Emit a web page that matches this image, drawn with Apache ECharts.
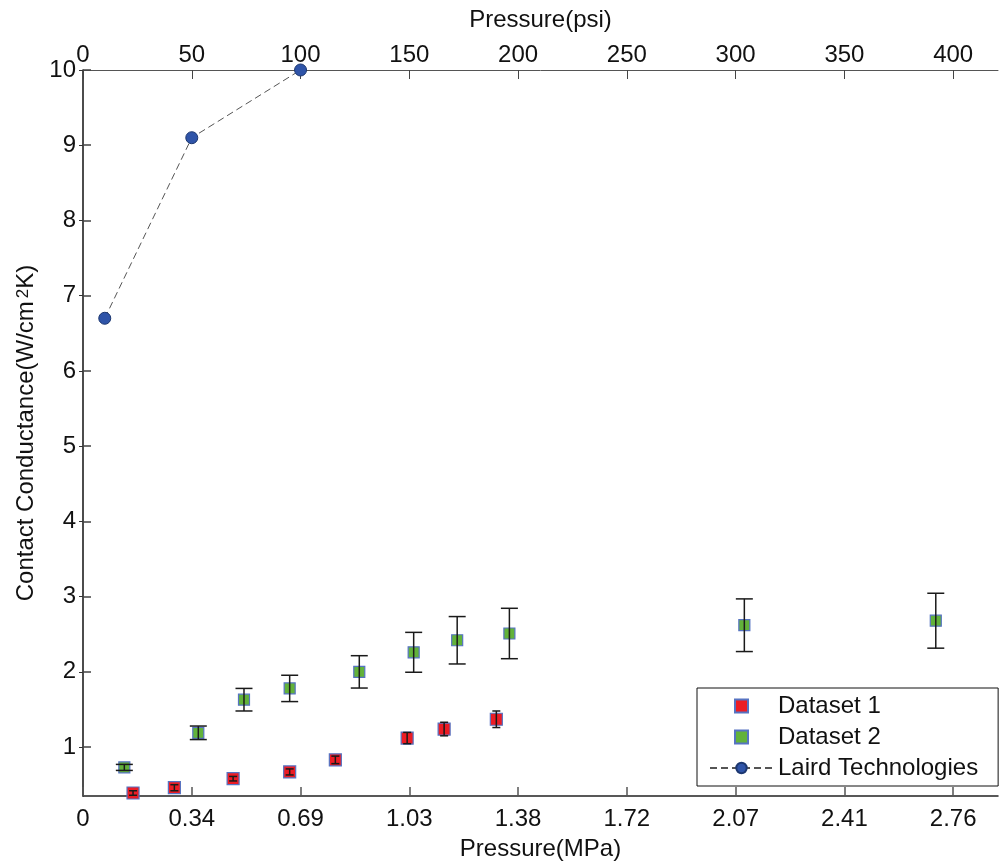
<!DOCTYPE html>
<html>
<head>
<meta charset="utf-8">
<title>Contact Conductance vs Pressure</title>
<script src="https://cdn.jsdelivr.net/npm/echarts@6/dist/echarts.min.js"></script>
<style>
  html, body { margin: 0; padding: 0; background: #fff; }
  #chart { width: 999px; height: 861px; }
</style>
</head>
<body>
<div id="chart"></div>
<script>
// x values are in psi, the bottom axis just relabels the same ticks in MPa
var psiTicks = [0, 50, 100, 150, 200, 250, 300, 350, 400];
var mpaLabels = ['0', '0.34', '0.69', '1.03', '1.38', '1.72', '2.07', '2.41', '2.76'];
var yTicks = [1, 2, 3, 4, 5, 6, 7, 8, 9, 10];

// Dataset 1 (red)
var d1Psi = [23, 42, 69, 95, 116, 149, 166, 190];
var d1Val = [0.39, 0.46, 0.58, 0.67, 0.83, 1.12, 1.24, 1.37];
var d1Err = [0.03, 0.04, 0.03, 0.04, 0.05, 0.075, 0.09, 0.11];

// Dataset 2 (green)
var d2Psi = [19, 53, 74, 95, 127, 152, 172, 196, 304, 392];
var d2Val = [0.73, 1.19, 1.63, 1.78, 2.00, 2.26, 2.42, 2.51, 2.62, 2.68];
var d2Err = [0.04, 0.09, 0.15, 0.175, 0.215, 0.265, 0.315, 0.335, 0.35, 0.365];

// Laird Technologies
var lairdPsi = [10, 50, 100];
var lairdVal = [6.7, 9.1, 10];

var font = 'Liberation Sans, Arial, sans-serif';
// square legend icon (path icons keep their aspect, 'rect' gets stretched)
var squareIcon = 'path://M0 0H10V10H0Z';

function pairs(xs, ys) {
	var out = [];
	for (var i = 0; i < xs.length; i++) out.push([xs[i], ys[i]]);
	return out;
}
function errRows(xs, ys, es) {
	var out = [];
	for (var i = 0; i < xs.length; i++) out.push([xs[i], ys[i] - es[i], ys[i] + es[i]]);
	return out;
}
// draws the vertical bar and both caps of one error bar
function errorBar(capHalf) {
	return function (params, api) {
		var x = api.value(0);
		var top = api.coord([x, api.value(2)]);
		var bot = api.coord([x, api.value(1)]);
		var st = { stroke: '#1a1a1a', lineWidth: 1.5 };
		return {
			type: 'group',
			children: [
				{ type: 'line', shape: { x1: top[0], y1: top[1], x2: bot[0], y2: bot[1] }, style: st },
				{ type: 'line', shape: { x1: top[0] - capHalf, y1: top[1], x2: top[0] + capHalf, y2: top[1] }, style: st },
				{ type: 'line', shape: { x1: bot[0] - capHalf, y1: bot[1], x2: bot[0] + capHalf, y2: bot[1] }, style: st }
			]
		};
	};
}

var chart = echarts.init(document.getElementById('chart'));
var option = {
	animation: false,
	backgroundColor: '#fff',
	textStyle: { fontFamily: font },
	grid: { left: 83, top: 70, right: 1, bottom: 65, outerBoundsMode: 'none', containLabel: false },
	legend: {
		orient: 'vertical',
		left: 697,
		top: 688,
		padding: [6, 20, 6, 12],
		itemGap: 7,
		itemWidth: 63,
		itemHeight: 13,
		borderColor: '#111',
		borderWidth: 1,
		backgroundColor: '#fff',
		textStyle: { fontSize: 24, color: '#111', fontFamily: font },
		data: [
			{ name: 'Dataset 1', icon: squareIcon },
			{ name: 'Dataset 2', icon: squareIcon },
			{ name: 'Laird Technologies' }
		]
	},
	xAxis: [
		{
			type: 'value',
			position: 'bottom',
			min: 0,
			max: 420.6,
			name: 'Pressure(MPa)',
			nameLocation: 'middle',
			nameGap: 41,
			nameTextStyle: { fontSize: 24, color: '#111', fontFamily: font },
			axisLine: { lineStyle: { color: '#222', width: 1.5 } },
			axisTick: { inside: true, length: 9, customValues: psiTicks, lineStyle: { color: '#555', width: 1.5 } },
			axisLabel: {
				fontSize: 24, color: '#111', margin: 11, fontFamily: font,
				customValues: psiTicks,
				formatter: function (v) { return mpaLabels[psiTicks.indexOf(v)]; }
			},
			splitLine: { show: false }
		},
		{
			type: 'value',
			position: 'top',
			min: 0,
			max: 420.6,
			name: 'Pressure(psi)',
			nameLocation: 'middle',
			nameGap: 38,
			nameTextStyle: { fontSize: 24, color: '#111', fontFamily: font },
			axisLine: { lineStyle: { color: '#555', width: 1 } },
			axisTick: { inside: true, length: 9, customValues: psiTicks, lineStyle: { color: '#444', width: 1 } },
			axisLabel: { fontSize: 24, color: '#111', margin: 3, fontFamily: font, customValues: psiTicks },
			splitLine: { show: false }
		}
	],
	yAxis: [
		{
			type: 'value',
			position: 'left',
			min: 0.35,
			max: 10,
			name: 'Contact Conductance(W/cm{sup|2}K)',
			nameLocation: 'middle',
			nameGap: 44,
			nameRotate: 90,
			nameTextStyle: {
				fontSize: 24, color: '#111', fontFamily: font,
				rich: { sup: { fontSize: 17, verticalAlign: 'top', color: '#111', fontFamily: font, padding: [0, 0, 0, 3] } }
			},
			axisLine: { lineStyle: { color: '#111', width: 1.5 } },
			axisTick: { inside: true, length: 8, customValues: yTicks, lineStyle: { color: '#444', width: 1.5 } },
			axisLabel: { fontSize: 24, color: '#111', margin: 7, fontFamily: font, customValues: yTicks },
			splitLine: { show: false }
		},
		{
			type: 'value',
			position: 'right',
			min: 0.35,
			max: 10,
			axisLine: { show: false },
			axisTick: { inside: true, length: 4, customValues: yTicks, lineStyle: { color: '#333', width: 1 } },
			axisLabel: { show: false },
			splitLine: { show: false }
		}
	],
	series: [
		{
			name: 'Dataset 1',
			type: 'scatter',
			symbol: 'rect',
			symbolSize: 12,
			clip: false,
			itemStyle: { color: '#ec1c24', borderColor: '#5673c2', borderWidth: 1.2, opacity: 1 },
			data: pairs(d1Psi, d1Val)
		},
		{
			name: 'Dataset 2',
			type: 'scatter',
			symbol: 'rect',
			symbolSize: 11,
			clip: false,
			itemStyle: { color: '#62b23a', borderColor: '#5673c2', borderWidth: 1.2, opacity: 1 },
			data: pairs(d2Psi, d2Val)
		},
		{
			name: 'Laird Technologies',
			type: 'line',
			symbol: 'circle',
			symbolSize: 12,
			clip: false,
			lineStyle: { color: '#555', width: 1, type: [7, 4] },
			itemStyle: { color: '#2f54a8', borderColor: '#1c3770', borderWidth: 1 },
			data: pairs(lairdPsi, lairdVal)
		},
		{
			name: 'err1',
			type: 'custom',
			z: 5,
			renderItem: errorBar(4),
			encode: { x: 0, y: [1, 2] },
			data: errRows(d1Psi, d1Val, d1Err)
		},
		{
			name: 'err2',
			type: 'custom',
			z: 5,
			renderItem: errorBar(8.5),
			encode: { x: 0, y: [1, 2] },
			data: errRows(d2Psi, d2Val, d2Err)
		}
	]
};
chart.setOption(option);
window.addEventListener('resize', function () {
	chart.resize();
});
</script>
</body>
</html>
